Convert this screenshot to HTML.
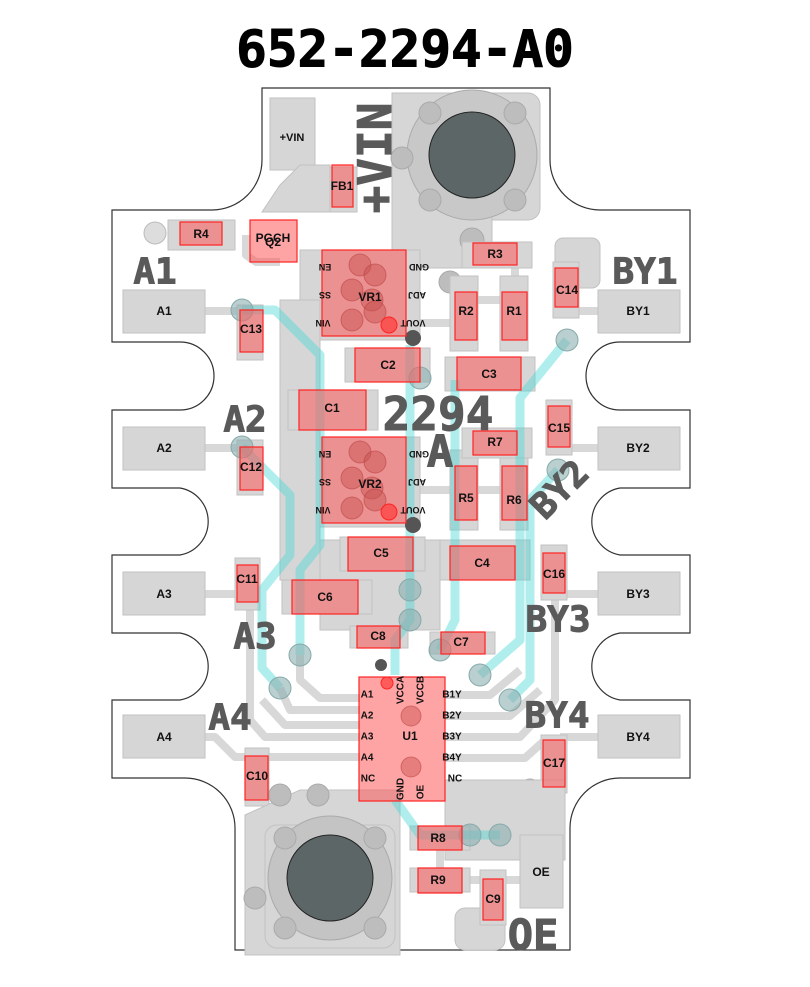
<!DOCTYPE html>
<html><head><meta charset="utf-8"><style>
html,body{margin:0;padding:0;background:#fff;}
svg{display:block;font-family:"Liberation Sans",Arial,sans-serif;}
.p{fill:#d6d6d6;stroke:#c2c2c2;stroke-width:1}
.r{fill:rgba(255,90,90,0.55);stroke:#f22;stroke-width:1.2}
.t{fill:none;stroke:#d8d8d8;stroke-width:8;stroke-linejoin:round}
.c{fill:none;stroke:rgba(80,215,215,0.45);stroke-width:9;stroke-linejoin:round}
.l{font-size:12px;font-weight:bold;fill:#111;text-anchor:middle;dominant-baseline:central}
.s{font-size:9px;font-weight:bold;fill:#111;text-anchor:middle;dominant-baseline:central}
.b{font-family:"DejaVu Sans Mono","Liberation Mono",monospace;font-weight:bold;fill:#5a5a5a;stroke:#5a5a5a;stroke-width:1;text-anchor:middle;dominant-baseline:central}
</style></head><body>
<svg width="810" height="987" viewBox="0 0 810 987">
<text x="405" y="50" class="b" style="font-size:51px;fill:#000;stroke:#000">652-2294-A0</text>
<path d="M262,88 H550 V160 A50,50 0 0 0 600,210 H690 V342 H620 A34,34 0 0 0 620,410 H690 V488 H620 A34,34 0 0 0 620,555 H690 V633 H620 A34,34 0 0 0 620,700 H690 V778 H620 A50,50 0 0 0 570,828 V950 H235 V828 A50,50 0 0 0 185,778 H112 V700 H180 A34,34 0 0 0 180,633 H112 V555 H180 A34,34 0 0 0 180,488 H112 V410 H180 A34,34 0 0 0 180,342 H112 V210 H212 A50,50 0 0 0 262,160 Z" fill="#fff" stroke="#333" stroke-width="1.2"/>
<g class="t">
<path d="M205,311 H242"/><path d="M205,448 H242"/><path d="M205,594 H240"/><path d="M205,737 H215 L235,757 H250"/>
<path d="M598,311 H565"/><path d="M598,448 H565"/><path d="M598,594 H560"/><path d="M598,737 H560"/>
<path d="M280,688 L290,710 H360"/><path d="M262,700 L285,725 H360"/><path d="M250,600 V720 L265,737 H360"/><path d="M268,757 H360"/>
<path d="M445,695 H490 L520,670"/><path d="M445,716 H510 L540,690"/><path d="M445,737 H520 L555,700 V600"/><path d="M445,758 H525 L545,740 H560"/>
<path d="M300,655 V680 L320,698 H360"/>
<path d="M246,235 V255 L256,262 H280"/><path d="M408,323 H455"/><path d="M477,300 H502"/><path d="M515,265 V300"/>
<path d="M408,490 H455"/><path d="M477,490 H502"/><path d="M515,455 V470"/>
<path d="M440,845 V880"/><path d="M462,880 H520"/>
</g>
<rect class="p" x="270" y="98" width="45" height="72"/><text class="l" x="292" y="138" style="font-size:11px">+VIN</text>
<rect class="p" x="315" y="167" width="42" height="45"/>
<path class="p" d="M280,185 L300,165 H330 V212 H262 Z"/>
<rect class="p" x="392" y="93" width="148" height="127" rx="12"/>
<rect class="p" x="392" y="93" width="100" height="175"/>
<circle cx="472" cy="155" r="65" fill="#c8c8c8" stroke="#aaa"/>
<g fill="#bdbdbd" stroke="#aaa"><circle cx="430" cy="113" r="11"/><circle cx="515" cy="113" r="11"/><circle cx="430" cy="200" r="11"/><circle cx="515" cy="200" r="11"/><circle cx="402" cy="158" r="11"/><circle cx="472" cy="240" r="12"/><circle cx="408" cy="268" r="11"/><circle cx="450" cy="282" r="11"/><circle cx="478" cy="253" r="11"/></g>
<circle cx="472" cy="155" r="43" fill="#5d6666" stroke="#222"/>
<rect class="p" x="168" y="220" width="67" height="30"/><circle cx="155" cy="233" r="11" fill="#ddd" stroke="#bbb"/>
<rect class="p" x="555" y="238" width="45" height="50" rx="8"/>
<rect class="p" x="300" y="250" width="120" height="90"/>
<rect class="p" x="300" y="437" width="120" height="90"/>
<rect class="p" x="280" y="300" width="40" height="280"/>
<rect class="p" x="320" y="540" width="120" height="90"/>
<rect class="p" x="440" y="540" width="90" height="40"/>
<rect class="p" x="450" y="276" width="28" height="75"/><rect class="p" x="500" y="276" width="28" height="75"/>
<rect class="p" x="450" y="450" width="28" height="80"/><rect class="p" x="500" y="450" width="28" height="80"/>
<rect class="p" x="462" y="242" width="70" height="26"/><rect class="p" x="462" y="428" width="70" height="30"/>
<rect class="p" x="445" y="357" width="90" height="34"/><rect class="p" x="345" y="348" width="85" height="34"/>
<rect class="p" x="288" y="390" width="90" height="40"/><rect class="p" x="340" y="537" width="85" height="34"/>
<rect class="p" x="282" y="580" width="90" height="34"/><rect class="p" x="350" y="626" width="58" height="22"/><rect class="p" x="430" y="632" width="65" height="22"/>
<rect class="p" x="237" y="305" width="26" height="55"/><rect class="p" x="237" y="440" width="26" height="55"/><rect class="p" x="235" y="558" width="25" height="52"/><rect class="p" x="245" y="748" width="24" height="58"/>
<rect class="p" x="553" y="262" width="26" height="56"/><rect class="p" x="546" y="400" width="26" height="55"/><rect class="p" x="541" y="545" width="26" height="55"/><rect class="p" x="541" y="735" width="26" height="58"/>
<rect class="p" x="123" y="290" width="82" height="43"/><text class="l" x="164" y="311">A1</text>
<rect class="p" x="123" y="427" width="82" height="43"/><text class="l" x="164" y="448">A2</text>
<rect class="p" x="123" y="572" width="82" height="43"/><text class="l" x="164" y="594">A3</text>
<rect class="p" x="123" y="715" width="82" height="43"/><text class="l" x="164" y="737">A4</text>
<rect class="p" x="598" y="290" width="82" height="43"/><text class="l" x="638" y="311">BY1</text>
<rect class="p" x="598" y="427" width="82" height="43"/><text class="l" x="638" y="448">BY2</text>
<rect class="p" x="598" y="572" width="82" height="43"/><text class="l" x="638" y="594">BY3</text>
<rect class="p" x="598" y="715" width="82" height="43"/><text class="l" x="638" y="737">BY4</text>
<path class="p" d="M245,815 L300,790 H400 V955 H245 Z"/>
<rect class="p" x="265" y="825" width="130" height="123" rx="12"/>
<circle cx="330" cy="878" r="62" fill="#c4c4c4" stroke="#aaa"/>
<g fill="#bdbdbd" stroke="#aaa"><circle cx="285" cy="838" r="11"/><circle cx="375" cy="838" r="11"/><circle cx="285" cy="928" r="11"/><circle cx="375" cy="928" r="11"/><circle cx="255" cy="898" r="11"/><circle cx="280" cy="795" r="11"/><circle cx="318" cy="795" r="11"/><circle cx="464" cy="825" r="11"/><circle cx="530" cy="790" r="11"/><circle cx="552" cy="825" r="11"/></g>
<path class="p" d="M445,780 H565 V860 H445 Z"/>
<circle cx="330" cy="878" r="43" fill="#5d6666" stroke="#222"/>
<rect class="p" x="520" y="835" width="43" height="73"/><text class="l" x="541" y="872">OE</text>
<rect class="p" x="455" y="908" width="50" height="42" rx="10"/>
<rect class="p" x="410" y="826" width="60" height="24"/><rect class="p" x="410" y="868" width="60" height="24"/>
<rect class="p" x="480" y="870" width="26" height="55"/>
<g class="c"><path d="M242,310 H275 L320,355 V545 L300,570 V655"/><path d="M242,447 L290,495 V555 L262,590 V668 L280,688"/>
<path d="M567,340 L520,398 V640 L480,675"/><path d="M558,470 L530,500 V680 L510,700"/>
<path d="M410,345 V620 L395,640 V675"/><path d="M455,380 V620 L440,650"/>
<path d="M395,800 L420,835 H500"/></g>
<g fill="rgba(140,175,175,0.6)" stroke="#8aa"><circle cx="242" cy="310" r="11"/><circle cx="242" cy="447" r="11"/><circle cx="567" cy="340" r="11"/><circle cx="558" cy="470" r="11"/><circle cx="280" cy="688" r="11"/><circle cx="300" cy="655" r="11"/><circle cx="480" cy="675" r="11"/><circle cx="510" cy="700" r="11"/><circle cx="410" cy="590" r="11"/><circle cx="410" cy="620" r="11"/><circle cx="500" cy="835" r="11"/><circle cx="470" cy="835" r="11"/><circle cx="440" cy="650" r="11"/><circle cx="420" cy="378" r="11"/></g>
<g fill="#555"><circle cx="413" cy="338" r="8"/><circle cx="413" cy="525" r="8"/><circle cx="381" cy="665" r="6"/></g>
<text class="b" x="155" y="272" style="font-size:36px">A1</text>
<text class="b" x="245" y="420" style="font-size:36px">A2</text>
<text class="b" x="255" y="637" style="font-size:36px">A3</text>
<text class="b" x="230" y="718" style="font-size:36px">A4</text>
<text class="b" x="645" y="272" style="font-size:36px">BY1</text>
<text class="b" x="558" y="620" style="font-size:36px">BY3</text>
<text class="b" x="557" y="716" style="font-size:36px">BY4</text>
<text class="b" x="0" y="0" style="font-size:36px" transform="translate(560,490) rotate(-45)">BY2</text>
<text class="b" x="0" y="0" style="font-size:46px" transform="translate(375,158) rotate(-90)">+VIN</text>
<text class="b" x="438" y="414" style="font-size:46px">2294</text>
<text class="b" x="440" y="452" style="font-size:44px">A</text>
<text class="b" x="533" y="935" style="font-size:42px">OE</text>
<rect class="r" x="332" y="165" width="21" height="42"/><text class="l" x="342" y="186">FB1</text>
<rect class="r" x="180" y="222" width="42" height="23"/><text class="l" x="201" y="234">R4</text>
<rect class="r" x="250" y="220" width="47" height="42"/><text class="l" x="273" y="238">PGCH</text><text class="l" x="273" y="242">Q2</text>
<rect class="r" x="322" y="250" width="84" height="86"/>
<g fill="rgba(200,80,80,0.45)" stroke="rgba(180,60,60,0.5)"><circle cx="360" cy="265" r="11"/><circle cx="375" cy="275" r="11"/><circle cx="352" cy="290" r="11"/><circle cx="372" cy="300" r="11"/><circle cx="352" cy="320" r="11"/><circle cx="375" cy="312" r="11"/></g>
<text class="l" x="370" y="297">VR1</text>
<rect class="r" x="322" y="437" width="84" height="86"/>
<g fill="rgba(200,80,80,0.45)" stroke="rgba(180,60,60,0.5)"><circle cx="360" cy="452" r="11"/><circle cx="375" cy="462" r="11"/><circle cx="352" cy="478" r="11"/><circle cx="372" cy="488" r="11"/><circle cx="352" cy="508" r="11"/><circle cx="375" cy="500" r="11"/></g>
<text class="l" x="370" y="484">VR2</text>
<g class="s"><text transform="translate(325,267) rotate(180)">EN</text><text transform="translate(325,295) rotate(180)">SS</text><text transform="translate(323,323) rotate(180)">VIN</text>
<text transform="translate(419,267) rotate(180)">GND</text><text transform="translate(417,295) rotate(180)">ADJ</text><text transform="translate(413,323) rotate(180)">VOUT</text>
<text transform="translate(325,454) rotate(180)">EN</text><text transform="translate(325,482) rotate(180)">SS</text><text transform="translate(323,510) rotate(180)">VIN</text>
<text transform="translate(419,454) rotate(180)">GND</text><text transform="translate(417,482) rotate(180)">ADJ</text><text transform="translate(413,510) rotate(180)">VOUT</text></g>
<circle cx="389" cy="325" r="8" fill="rgba(255,60,60,0.7)" stroke="#f22"/><circle cx="389" cy="512" r="8" fill="rgba(255,60,60,0.7)" stroke="#f22"/>
<rect class="r" x="473" y="243" width="44" height="22"/><text class="l" x="495" y="254">R3</text>
<rect class="r" x="455" y="292" width="22" height="48"/><text class="l" x="466" y="311">R2</text>
<rect class="r" x="502" y="292" width="25" height="48"/><text class="l" x="514" y="311">R1</text>
<rect class="r" x="555" y="268" width="23" height="39"/><text class="l" x="567" y="290">C14</text>
<rect class="r" x="240" y="310" width="23" height="42"/><text class="l" x="251" y="329">C13</text>
<rect class="r" x="355" y="348" width="65" height="34"/><text class="l" x="388" y="365">C2</text>
<rect class="r" x="457" y="357" width="64" height="33"/><text class="l" x="489" y="374">C3</text>
<rect class="r" x="299" y="390" width="67" height="40"/><text class="l" x="332" y="408">C1</text>
<rect class="r" x="473" y="431" width="44" height="24"/><text class="l" x="495" y="442">R7</text>
<rect class="r" x="548" y="406" width="22" height="41"/><text class="l" x="559" y="428">C15</text>
<rect class="r" x="240" y="447" width="23" height="43"/><text class="l" x="251" y="467">C12</text>
<rect class="r" x="455" y="466" width="22" height="54"/><text class="l" x="466" y="498">R5</text>
<rect class="r" x="502" y="466" width="25" height="54"/><text class="l" x="514" y="500">R6</text>
<rect class="r" x="348" y="537" width="65" height="34"/><text class="l" x="381" y="553">C5</text>
<rect class="r" x="450" y="546" width="65" height="34"/><text class="l" x="482" y="563">C4</text>
<rect class="r" x="237" y="565" width="21" height="37"/><text class="l" x="247" y="579">C11</text>
<rect class="r" x="543" y="553" width="22" height="40"/><text class="l" x="554" y="574">C16</text>
<rect class="r" x="292" y="580" width="66" height="34"/><text class="l" x="325" y="597">C6</text>
<rect class="r" x="357" y="626" width="43" height="22"/><text class="l" x="378" y="636">C8</text>
<rect class="r" x="441" y="632" width="44" height="22"/><text class="l" x="461" y="642">C7</text>
<rect class="r" x="359" y="677" width="86" height="124"/>
<g fill="rgba(200,80,80,0.45)" stroke="rgba(180,60,60,0.5)"><circle cx="411" cy="716" r="10"/><circle cx="411" cy="767" r="10"/></g>
<circle cx="387" cy="683" r="6" fill="rgba(255,60,60,0.7)" stroke="#f22"/>
<text class="l" x="410" y="736">U1</text>
<g class="s" style="font-size:10px"><text x="367" y="695">A1</text><text x="367" y="716">A2</text><text x="367" y="737">A3</text><text x="367" y="758">A4</text><text x="368" y="779">NC</text>
<text x="452" y="695">B1Y</text><text x="452" y="716">B2Y</text><text x="452" y="737">B3Y</text><text x="452" y="758">B4Y</text><text x="455" y="779">NC</text>
<text transform="translate(401,690) rotate(-90)">VCCA</text><text transform="translate(421,690) rotate(-90)">VCCB</text>
<text transform="translate(401,789) rotate(-90)">GND</text><text transform="translate(421,792) rotate(-90)">OE</text></g>
<rect class="r" x="245" y="756" width="23" height="44"/><text class="l" x="257" y="776">C10</text>
<rect class="r" x="543" y="740" width="22" height="47"/><text class="l" x="554" y="763">C17</text>
<rect class="r" x="418" y="826" width="44" height="24"/><text class="l" x="438" y="838">R8</text>
<rect class="r" x="418" y="868" width="44" height="25"/><text class="l" x="438" y="880">R9</text>
<rect class="r" x="483" y="879" width="20" height="41"/><text class="l" x="493" y="899">C9</text>
</svg>
</body></html>
